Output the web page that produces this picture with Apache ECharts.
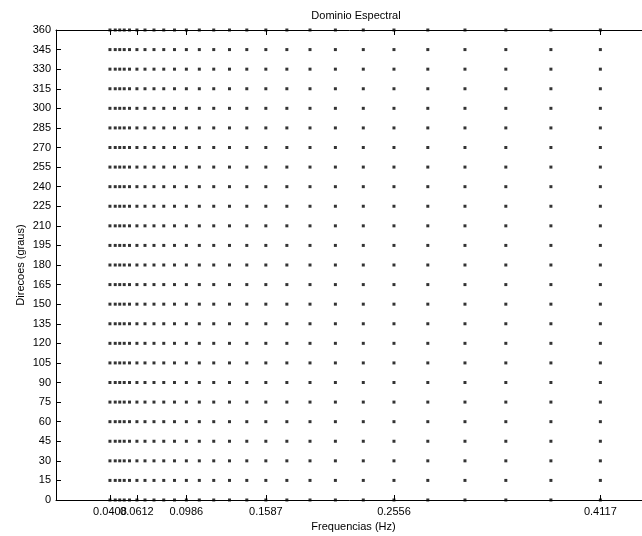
<!DOCTYPE html>
<html><head><meta charset="utf-8">
<script src="https://cdn.jsdelivr.net/npm/echarts@6/dist/echarts.min.js"></script>
<style>html,body{margin:0;padding:0;background:#fff;}#c{width:642px;height:536px;}</style>
</head><body><div id="c"></div>
<script>
var frequencies = [0.0408, 0.0448, 0.0482, 0.0516, 0.0556, 0.0612, 0.0673, 0.0741, 0.0815, 0.0896,
  0.0986, 0.1084, 0.1193, 0.1312, 0.1443, 0.1587, 0.1746, 0.1921, 0.2113, 0.2324,
  0.2556, 0.2812, 0.3093, 0.3402, 0.3743, 0.4117];
var directions = [0, 15, 30, 45, 60, 75, 90, 105, 120, 135, 150, 165, 180, 195, 210, 225, 240,
  255, 270, 285, 300, 315, 330, 345, 360];
var xTickValues = [0.0408, 0.0612, 0.0986, 0.1587, 0.2556, 0.4117];
var titleText = 'Dominio Espectral';
var xName = 'Frequencias (Hz)';
var yName = 'Direcoes (graus)';

var points = [];
frequencies.forEach(function (f) { directions.forEach(function (d) { points.push([f, d]); }); });

var font = 'Liberation Sans, Arial, sans-serif';
var axisLine = { show: true, onZero: false, lineStyle: { color: '#000', width: 1 } };
var labelStyle = { fontFamily: font, fontSize: 11, color: '#000' };
var fmt = function (v) { return v.toFixed(4); };
var chart = echarts.init(document.getElementById('c'), null, { renderer: 'canvas' });
chart.setOption({
  animation: false,
  backgroundColor: '#fff',
  title: { text: titleText, left: 351, textAlign: 'center', top: 5,
    textStyle: { fontFamily: font, fontSize: 11, fontWeight: 'normal', color: '#000' } },
  grid: { left: 56, top: 30, width: 595, bottom: 36, containLabel: false, outerBoundsMode: 'none' },
  xAxis: [{
    type: 'value', min: 0, max: 0.45, position: 'bottom',
    name: xName, nameLocation: 'middle', nameGap: 19,
    nameTextStyle: labelStyle,
    axisLine: axisLine,
    axisTick: { show: true, inside: true, length: 5, customValues: xTickValues, lineStyle: { color: '#000' } },
    axisLabel: Object.assign({ show: true, customValues: xTickValues.slice(1), margin: 6, hideOverlap: false, formatter: fmt }, labelStyle),
    splitLine: { show: false }
  }, {
    type: 'value', min: 0, max: 0.45, position: 'top',
    axisLine: axisLine,
    axisTick: { show: true, inside: true, length: 5, customValues: xTickValues, lineStyle: { color: '#000' } },
    axisLabel: { show: false }, splitLine: { show: false }
  }, {
    type: 'value', min: 0, max: 0.45, position: 'bottom',
    axisLine: { show: false, onZero: false },
    axisTick: { show: false },
    axisLabel: Object.assign({ show: true, customValues: xTickValues.slice(0, 1), margin: 6, hideOverlap: false, formatter: fmt }, labelStyle),
    splitLine: { show: false }
  }],
  yAxis: [{
    type: 'value', min: 0, max: 360, interval: 15, position: 'left',
    name: yName, nameLocation: 'middle', nameGap: 30, nameRotate: 90, nameMoveOverlap: false,
    nameTextStyle: labelStyle,
    axisLine: axisLine,
    axisTick: { show: true, inside: true, length: 5, lineStyle: { color: '#000' } },
    axisLabel: Object.assign({ margin: 5 }, labelStyle),
    splitLine: { show: false }
  }, {
    type: 'value', min: 0, max: 360, interval: 15, position: 'right',
    axisLine: axisLine,
    axisTick: { show: true, inside: true, length: 5, lineStyle: { color: '#000' } },
    axisLabel: { show: false }, splitLine: { show: false }
  }],
  series: [{
    type: 'scatter', xAxisIndex: 0, yAxisIndex: 0, data: points,
    symbol: 'rect', symbolSize: 3, clip: false,
    itemStyle: { color: '#000' }
  }]
});
</script></body></html>
